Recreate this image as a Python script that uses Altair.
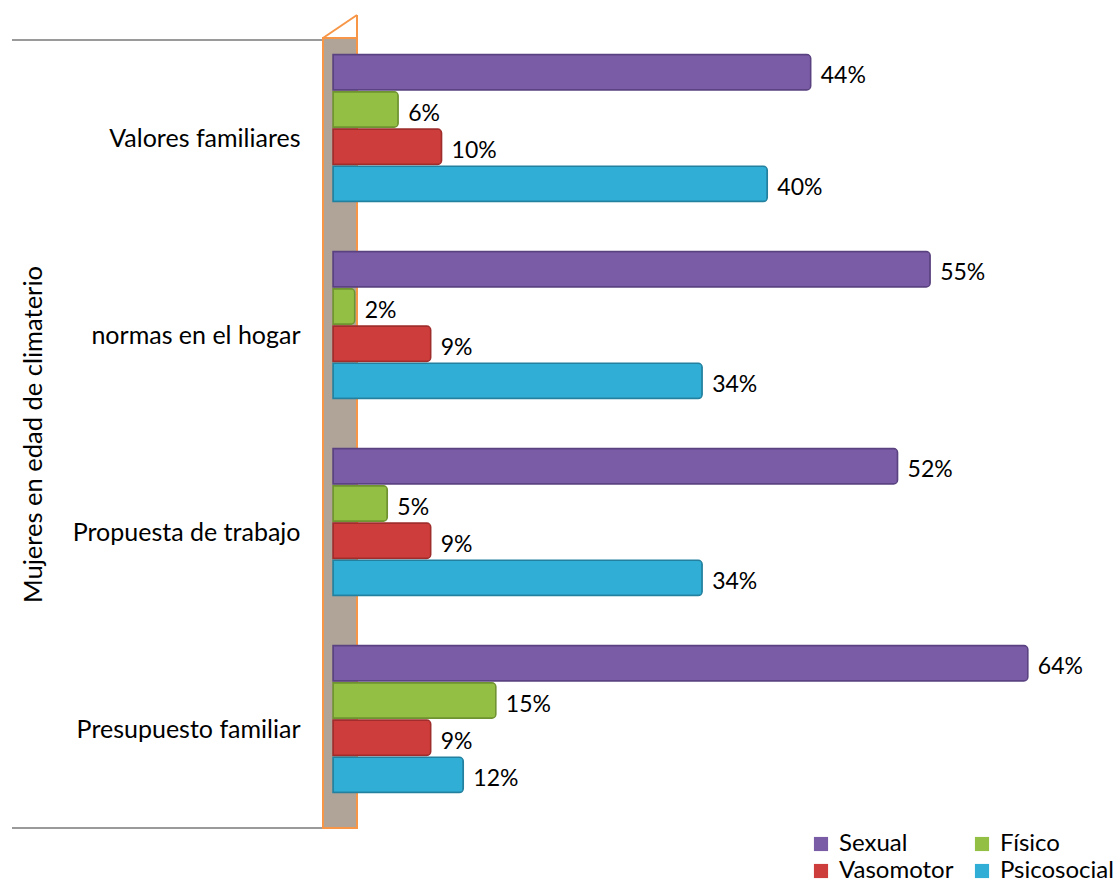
import altair as alt
import pandas as pd

categories = ["Valores familiares", "normas en el hogar", "Propuesta de trabajo", "Presupuesto familiar"]
series = ["Sexual", "Físico", "Vasomotor", "Psicosocial"]
sexual = [44, 55, 52, 64]
fisico = [6, 2, 5, 15]
vasomotor = [10, 9, 9, 9]
psicosocial = [40, 34, 34, 12]
colors = ["#7A5BA5", "#93BF45", "#CD3D3B", "#31AED5"]
dark_colors = ["#5A4280", "#6F9330", "#9E2D2C", "#23819F"]

rows = []
for i, c in enumerate(categories):
    for s, vals in zip(series, [sexual, fisico, vasomotor, psicosocial]):
        rows.append({"cat": c, "serie": s, "value": vals[i], "label": f"{vals[i]}%"})
df = pd.DataFrame(rows)

W, H = 760, 788
FONT = "Lato"
FS = 25
FS_LBL = 23

y = alt.Y(
    "cat:N", sort=categories,
    scale=alt.Scale(paddingInner=0.26, paddingOuter=0.13),
    axis=alt.Axis(
        title="Mujeres en edad de climaterio", domain=False, ticks=False, grid=False,
        labelPadding=33, labelFontSize=FS, labelFont=FONT, labelColor="black", labelLimit=400,
        titleFontSize=25.5, titleFont=FONT, titleFontWeight="normal", titleColor="black",
        titleX=-300, titleY=H / 2, titleAngle=-90, titleBaseline="middle", titleAlign="center",
    ),
)
yoff = alt.YOffset("serie:N", sort=series, scale=alt.Scale(paddingInner=0.05, range=[-11, 136]))
x = alt.X("value:Q", scale=alt.Scale(domain=[0, 70]), axis=None)
color = alt.Color(
    "serie:N", sort=series, scale=alt.Scale(domain=series, range=colors),
    legend=alt.Legend(
        title=None, orient="none", legendX=476, legendY=792, columns=2, direction="horizontal",
        symbolType="square", symbolSize=200, symbolStrokeWidth=0,
        labelFontSize=24, labelFont=FONT, labelColor="black",
        columnPadding=16, rowPadding=3, labelOffset=6,
    ),
)
stroke = alt.Stroke("serie:N", sort=series, scale=alt.Scale(domain=series, range=dark_colors), legend=None)

one = alt.Data(values=[{}])

wall = alt.Chart(one).mark_rect(fill="#B0A498", stroke="#F79646", strokeWidth=2).encode(
    x=alt.value(-10), x2=alt.value(24), y=alt.value(-2), y2=alt.value(H)
)
wall_top = alt.Chart(one).mark_rule(color="#F79646", strokeWidth=2).encode(
    x=alt.value(-10), y=alt.value(-2), x2=alt.value(24), y2=alt.value(-25)
)
wall_right = alt.Chart(one).mark_rule(color="#F79646", strokeWidth=2).encode(
    x=alt.value(24), y=alt.value(-25), x2=alt.value(24), y2=alt.value(-2)
)
rule_top = alt.Chart(one).mark_rule(color="#9A9A9A", strokeWidth=2).encode(
    x=alt.value(-321), x2=alt.value(-10), y=alt.value(0)
)
rule_bot = alt.Chart(one).mark_rule(color="#9A9A9A", strokeWidth=2).encode(
    x=alt.value(-321), x2=alt.value(-10), y=alt.value(H)
)

bars = alt.Chart(df).mark_bar(strokeWidth=1.5, cornerRadiusEnd=4).encode(
    x=x, y=y, yOffset=yoff, color=color, stroke=stroke
)
labels = alt.Chart(df).mark_text(align="left", baseline="middle", dx=10, dy=4, fontSize=FS_LBL, font=FONT, color="black").encode(
    x=x, y=alt.Y("cat:N", sort=categories), yOffset=yoff, text="label:N"
)

chart = alt.layer(rule_top, rule_bot, wall, wall_top, wall_right, bars, labels).properties(
    width=W, height=H,
    autosize=alt.AutoSizeParams(type="none"),
    padding={"left": 333, "top": 40, "right": 1116 - 333 - W, "bottom": 886 - 40 - H},
).configure(background="white", view=alt.ViewConfig(stroke=None))

chart.save("out.html", embed_options={"renderer": "svg", "actions": False})
